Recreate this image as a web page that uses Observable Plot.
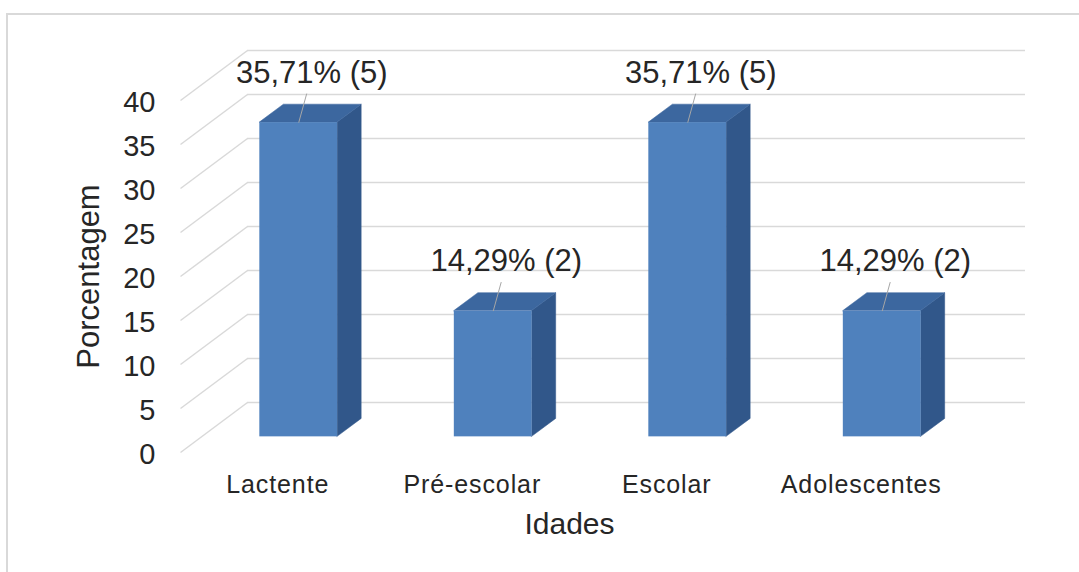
<!DOCTYPE html>
<html>
<head>
<meta charset="utf-8">
<script src="https://cdn.jsdelivr.net/npm/d3@7"></script>
<script src="https://cdn.jsdelivr.net/npm/@observablehq/plot@0.6"></script>
<style>
  html, body { margin: 0; padding: 0; background: #ffffff; overflow: hidden; }
  #frame { position: absolute; left: 6px; top: 13px; width: 1200px; height: 700px;
           border-left: 2px solid #d9d9d9; border-top: 2px solid #d9d9d9; }
  #chart { position: absolute; left: 0; top: 0; }
</style>
</head>
<body>
<div id="frame"></div>
<div id="chart"></div>
<script>
// ---- data ----
const categories = ["Lactente", "Pré-escolar", "Escolar", "Adolescentes"];
const percentages = [35.71, 14.29, 35.71, 14.29];
const counts = [5, 2, 5, 2];
const yTicks = [0, 5, 10, 15, 20, 25, 30, 35, 40];
const xTitle = "Idades";
const yTitle = "Porcentagem";

// ---- layout ----
const W = 1079, H = 572;
const mL = 247, mR = 54, mT = 50, mB = 170;
const xUnit = (W - mL - mR) / categories.length;   // px per category band
const yUnit = (H - mT - mB) / 40;                   // px per percent
const DEPTH = [-67, 50];                            // full depth offset in px
// depth projection (z: 0 = back wall, 1 = front) -> offset in data units
const proj = z => [DEPTH[0] * z / xUnit, -DEPTH[1] * z / yUnit];
const [wx, wy] = proj(1);       // front of the side wall / floor
const [fx, fy] = proj(0.687);   // bar front face
const [bx, by] = proj(0.328);   // bar back face

const blue = "#4f81bd", topC = "#3c679f", sideC = "#31578a";
const grid = "#d9d9d9", ink = "#262626";
const font = "'Liberation Sans', Arial, sans-serif";

const bars = categories.map((c, i) => ({
  cat: c, i, v: percentages[i], n: counts[i],
  x1: i + 0.3, x2: i + 0.7, cx: i + 0.5,
  label: percentages[i].toFixed(2).replace(".", ",") + "% (" + counts[i] + ")"
}));
const sidePts = bars.flatMap(b => [
  {i: b.i, x: b.x2 + fx, y1: fy, y2: b.v + fy},
  {i: b.i, x: b.x2 + bx, y1: by, y2: b.v + by}
]);
const topPts = bars.flatMap(b => [
  {i: b.i, y: b.v + fy, x1: b.x1 + fx, x2: b.x2 + fx},
  {i: b.i, y: b.v + by, x1: b.x1 + bx, x2: b.x2 + bx}
]);

const chart = Plot.plot({
  width: W, height: H,
  marginLeft: mL, marginRight: mR, marginTop: mT, marginBottom: mB,
  x: {domain: [0, categories.length], axis: null},
  y: {domain: [0, 40], axis: null},
  style: {fontFamily: font, color: ink, background: "transparent"},
  marks: [
    // back wall gridlines
    Plot.ruleY(yTicks, {stroke: grid, strokeWidth: 1.5}),
    // side wall gridlines
    Plot.link(yTicks, {x1: () => 0, y1: d => d, x2: () => wx, y2: d => d + wy,
                       stroke: grid, strokeWidth: 1.5}),
    // y tick labels
    Plot.text(yTicks, {x: () => wx, y: d => d + wy, text: d => String(d),
                       textAnchor: "end", dx: -25, dy: 2, fontSize: 29, fill: ink}),
    // bars: side, top, front
    Plot.areaY(sidePts, {x: "x", y1: "y1", y2: "y2", z: "i", fill: sideC,
                         stroke: sideC, strokeWidth: 0.5, curve: "linear"}),
    Plot.areaX(topPts, {y: "y", x1: "x1", x2: "x2", z: "i", fill: topC,
                        stroke: topC, strokeWidth: 0.5, curve: "linear"}),
    Plot.rect(bars, {x1: d => d.x1 + fx, x2: d => d.x2 + fx,
                     y1: () => fy, y2: d => d.v + fy, fill: blue}),
    // leader lines
    Plot.link(bars, {x1: d => d.cx + fx, y1: d => d.v + fy,
                     x2: d => d.cx + fx + 8 / xUnit, y2: d => d.v + fy + 29 / yUnit,
                     stroke: "#a6a6a6", strokeWidth: 1}),
    // data labels
    Plot.text(bars, {x: d => d.cx + fx, y: d => d.v + fy, text: "label",
                     dx: 13, dy: -40, lineAnchor: "bottom", fontSize: 31, fill: ink}),
    // category labels
    Plot.text(bars, {x: d => d.cx + wx, y: () => wy, text: "cat",
                     dy: 40, lineAnchor: "bottom", fontSize: 25, fill: ink}),
    // axis titles
    Plot.text([xTitle], {x: () => categories.length / 2 + wx, y: () => wy,
                         text: d => d, dy: 81, lineAnchor: "bottom", fontSize: 30, fill: ink}),
    Plot.text([yTitle], {x: () => wx, y: () => 20 + wy, text: d => d,
                         rotate: -90, dx: -91, fontSize: 31, fill: ink})
  ]
});
// slightly wider letter spacing on the category labels, as in the original
d3.select(chart).selectAll("text")
  .filter(function () { return categories.includes(this.textContent); })
  .style("letter-spacing", "0.9px");
document.getElementById("chart").appendChild(chart);
</script>
</body>
</html>
